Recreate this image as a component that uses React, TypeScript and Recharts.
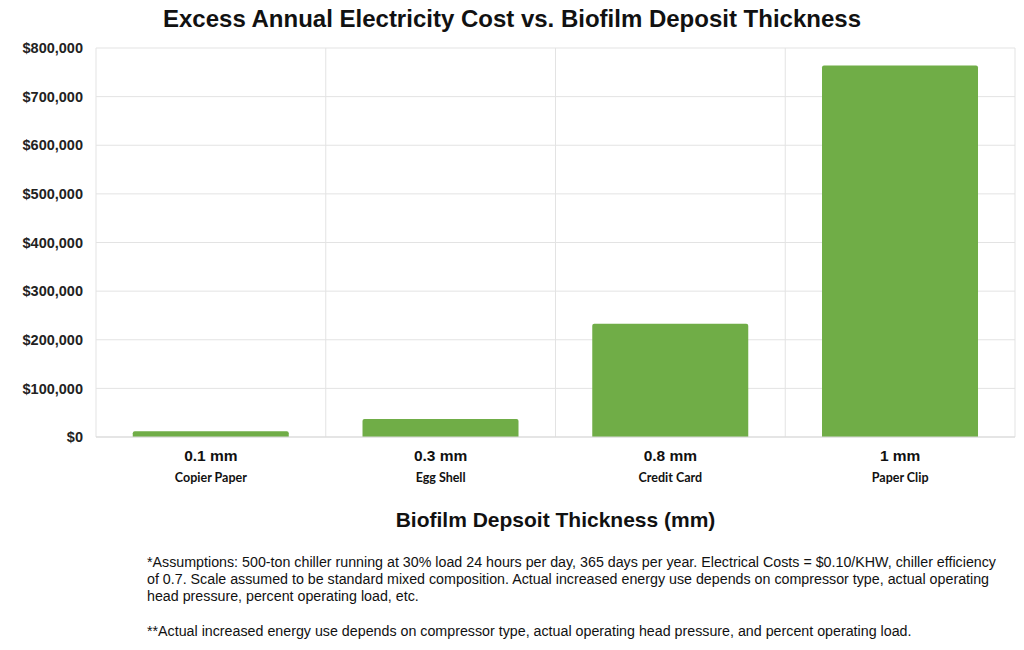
import React from 'react';
import { BarChart, Bar, XAxis, YAxis, CartesianGrid, Label } from 'recharts';

const thickness = ['0.1 mm', '0.3 mm', '0.8 mm', '1 mm'];
const objects = ['Copier Paper', 'Egg Shell', 'Credit Card', 'Paper Clip'];
const excessCost = [12000, 37000, 233000, 764000];
const yTicks = [0, 100000, 200000, 300000, 400000, 500000, 600000, 700000, 800000];

const data = thickness.map((t, i) => ({ thickness: t, object: objects[i], cost: excessCost[i] }));

const FONT = '"Liberation Sans", Arial, sans-serif';

const XTick = (props: any) => {
  const { x, y, payload, index } = props;
  return (
    <g>
      <text x={x} y={y + 15.5} textAnchor="middle" fontFamily={FONT} fontWeight="bold" fontSize={15.5} fill="#111">
        {payload.value}
      </text>
      <text x={x} y={y + 37} textAnchor="middle" fontFamily="Lato, 'Open Sans', sans-serif" fontWeight="bold" fontSize={12.5} fill="#111">
        {objects[index]}
      </text>
    </g>
  );
};

export default function App() {
  return (
    <div style={{ position: 'relative', width: 1024, height: 650, margin: -8, background: '#fff', fontFamily: FONT }}>
      <div style={{ position: 'absolute', left: 0, top: 5, width: 1024, textAlign: 'center', fontWeight: 'bold', fontSize: 24, color: '#111' }}>
        Excess Annual Electricity Cost vs. Biofilm Deposit Thickness
      </div>
      <div style={{ position: 'absolute', left: 0, top: 0 }}>
        <BarChart width={1024} height={540} data={data} margin={{ top: 48, right: 9, bottom: 8, left: 8 }} barCategoryGap="16%">
          <CartesianGrid
            stroke="#e3e3e3"
            verticalCoordinatesGenerator={({ offset }: any) =>
              [0, 1, 2, 3, 4].map((i) => offset.left + (i * offset.width) / 4)
            }
          />
          <XAxis
            dataKey="thickness"
            height={95}
            tickLine={false}
            axisLine={{ stroke: '#d9d9d9' }}
            tick={<XTick />}
            interval={0}
          >
            <Label
              value="Biofilm Depsoit Thickness (mm)"
              position="insideBottom"
              offset={5}
              style={{ fontFamily: FONT, fontWeight: 'bold', fontSize: 21, fill: '#111' }}
            />
          </XAxis>
          <YAxis
            width={88}
            domain={[0, 800000]}
            ticks={yTicks}
            tickSize={0}
            tickMargin={13}
            tickLine={false}
            axisLine={false}
            tickFormatter={(v: number) => '$' + v.toLocaleString('en-US')}
            tick={{ fontFamily: FONT, fontWeight: 'bold', fontSize: 14.5, fill: '#222' }}
          />
          <Bar dataKey="cost" fill="#70AD47" radius={[2, 2, 0, 0]} isAnimationActive={false} />
        </BarChart>
      </div>
      <div style={{ position: 'absolute', left: 147, top: 554, fontSize: 14.25, lineHeight: '17px', color: '#111', whiteSpace: 'pre' }}>
        {'*Assumptions: 500-ton chiller running at 30% load 24 hours per day, 365 days per year. Electrical Costs = $0.10/KHW, chiller efficiency\nof 0.7. Scale assumed to be standard mixed composition. Actual increased energy use depends on compressor type, actual operating\nhead pressure, percent operating load, etc.'}
      </div>
      <div style={{ position: 'absolute', left: 147, top: 623, fontSize: 14.25, lineHeight: '17px', color: '#111', whiteSpace: 'pre' }}>
        {'**Actual increased energy use depends on compressor type, actual operating head pressure, and percent operating load.'}
      </div>
    </div>
  );
}
